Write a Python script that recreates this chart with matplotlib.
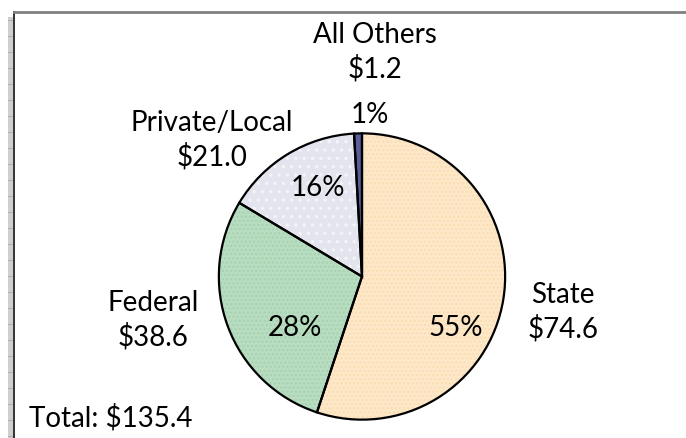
import matplotlib
matplotlib.use("Agg")
import matplotlib.pyplot as plt
from matplotlib.lines import Line2D
from matplotlib.patches import Rectangle

# ---- data ----
categories = ["State", "Federal", "Private/Local", "All Others"]
values = [74.6, 38.6, 21.0, 1.2]
pct_labels = ["55%", "28%", "16%", "1%"]
value_labels = ["$74.6", "$38.6", "$21.0", "$1.2"]
total_label = "Total: $135.4"

colors = ["#FDE8CA", "#B9DDC1", "#E3E4EE", "#5A5E9C"]
hatch_colors = ["#FADDB2", "#A7D2B1", "#F4F4F8", "#5A5E9C"]
hatches = ["....", "....", "..", None]

W, H = 686, 438
plt.rcParams["font.family"] = ["Lato", "DejaVu Sans"]
plt.rcParams["hatch.linewidth"] = 1.2

fig = plt.figure(figsize=(W / 100, H / 100), dpi=100)

cx, cy, r = 362, 276.5, 144
ax = fig.add_axes([(cx - r) / W, (H - cy - r) / H, 2 * r / W, 2 * r / H])

# base fill
wedges, _ = ax.pie(values, colors=colors, startangle=90, counterclock=False,
                   radius=1, wedgeprops=dict(linewidth=0))
# subtle texture
tex, _ = ax.pie(values, startangle=90, counterclock=False, radius=1,
                wedgeprops=dict(linewidth=0, facecolor="none"))
for w, hc, hp in zip(tex, hatch_colors, hatches):
    if hp:
        w.set_hatch(hp)
        w.set_edgecolor(hc)
    else:
        w.set_edgecolor("none")
# outlines
outl, _ = ax.pie(values, startangle=90, counterclock=False, radius=1,
                 wedgeprops=dict(linewidth=1.6, edgecolor="black", facecolor="none"))
ax.set_xlim(-1.006, 1.006)
ax.set_ylim(-1.006, 1.006)
ax.set_aspect("equal")
ax.axis("off")

def px(x, y):
    return x / W, 1 - y / H

fs = 20
# category labels (two lines: name + value)
label_pos = [(563, 312), (153, 320), (212, 140), (375, 52)]
for name, val, (x, y) in zip(categories, value_labels, label_pos):
    fig.text(*px(x, y), f"{name}\n{val}", ha="center", va="center",
             fontsize=fs, linespacing=1.3)

pct_pos = [(456, 328), (295, 328), (318, 188), (370, 115)]
for p, (x, y) in zip(pct_labels, pct_pos):
    fig.text(*px(x, y), p, ha="center", va="center", fontsize=fs)

fig.text(*px(29, 418), total_label, ha="left", va="center", fontsize=fs)

# frame decorations
fig.add_artist(Rectangle(px(8, 438), 6 / W, (438 - 17) / H,
                         facecolor="#CFCFCF", edgecolor="none"))
for yy in range(20, 438, 16):
    fig.add_artist(Line2D([8 / W, 13 / W], [1 - yy / H] * 2, color="#A8A8A8", lw=0.6))
fig.add_artist(Line2D([14 / W, 14 / W], [1 - 12 / H, 0], color="#333333", lw=1.4))
fig.add_artist(Line2D([14 / W, 1], [1 - 12 / H] * 2, color="#808080", lw=2.0))

fig.savefig("out.png", dpi=100)
